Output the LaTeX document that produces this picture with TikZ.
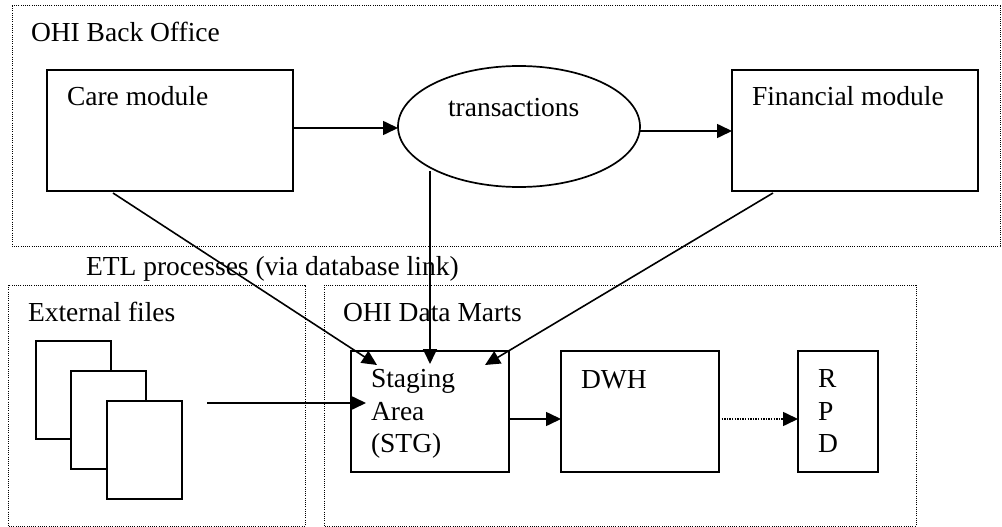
\documentclass[tikz,border=0pt]{standalone}
\usepackage{fontspec}
\setmainfont{Liberation Serif}
\usetikzlibrary{arrows.meta,shapes.geometric,calc}
\begin{document}
\begin{tikzpicture}[x=1pt,y=-1pt,
  every node/.style={inner sep=0pt,outer sep=0pt},
  txt/.style={font=\fontsize{27.5}{32.5}\selectfont,anchor=base west},
  mlt/.style={font=\fontsize{27.5}{32.5}\selectfont,anchor=north west,align=left},
  frame/.style={draw,line width=1pt,dash pattern=on 1pt off 1.2pt},
  box/.style={draw,line width=1.7pt,rectangle},
  arr/.style={line width=1.6pt,-{Triangle[length=15pt,width=14pt]}},
  darr/.style={line width=1.6pt,dash pattern=on 1.3pt off 1.3pt,-{Triangle[length=15pt,width=14pt]}}]
\useasboundingbox (0,0) rectangle (1002,527);
% frames
\draw[frame] (12,6) rectangle (1000,246);
\draw[frame] (8,285) rectangle (305,526);
\draw[frame] (324,285) rectangle (916,526);
\node[txt] (tbo) at (31,42) {OHI Back Office};
\node[txt] (tetl) at (86,275) {ETL processes (via database link)};
\node[txt] (text) at (28,321) {External files};
\node[txt] (tdm) at (343,321) {OHI Data Marts};
% top row
\node[box,minimum width=246pt,minimum height=121pt] (care) at (170,130.5) {};
\node[txt] (tcare) at (67,106) {Care module};
\node[draw,line width=1.7pt,ellipse,minimum width=242pt,minimum height=121pt] (trans) at (519,126.5) {};
\node[txt] (ttrans) at (448,117) {transactions};
\node[box,minimum width=246pt,minimum height=121pt] (fin) at (855,130.5) {};
\node[txt] (tfin) at (752,106) {Financial module};
% bottom row
\node[box,minimum width=158pt,minimum height=121pt] (stg) at (430,411.5) {};
\node[mlt] (tstg) at (371,369.5) {Staging\\Area\\(STG)};
\node[box,minimum width=158pt,minimum height=121pt] (dwh) at (640,411.5) {};
\node[txt] (tdwh) at (581,388) {DWH};
\node[box,minimum width=80pt,minimum height=121pt] (rpd) at (838,411.5) {};
\node[mlt] (trpd) at (818,369.5) {R\\P\\D};
% documents
\node[box,fill=white,minimum width=75pt,minimum height=98pt] (doc1) at (73.5,390) {};
\node[box,fill=white,minimum width=75pt,minimum height=98pt] (doc2) at (108.5,420) {};
\node[box,fill=white,minimum width=75pt,minimum height=98pt] (doc3) at (144.5,450) {};
% connector ends
\coordinate (cs) at (113,193);
\coordinate (ts) at (430,171);
\coordinate (fs) at (773,193);
\coordinate (ds) at (207,403);
\coordinate (e1) at (377,365);
\coordinate (e2) at (430,364);
\coordinate (e3) at (485,365);
\coordinate (e4) at (366,403);
% connectors
\draw[arr] (care.east |- 0,128) -- (trans.west |- 0,128);
\draw[arr] (trans.east |- 0,131) -- (fin.west |- 0,131);
\draw[arr] (cs) -- (e1);
\draw[arr] (ts) -- (e2);
\draw[arr] (fs) -- (e3);
\draw[arr] (ds) -- (e4);
\draw[arr] (stg.east |- 0,419) -- (dwh.west |- 0,419);
\draw[darr] (dwh.east |- 0,419) -- (rpd.west |- 0,419);
\end{tikzpicture}
\end{document}
